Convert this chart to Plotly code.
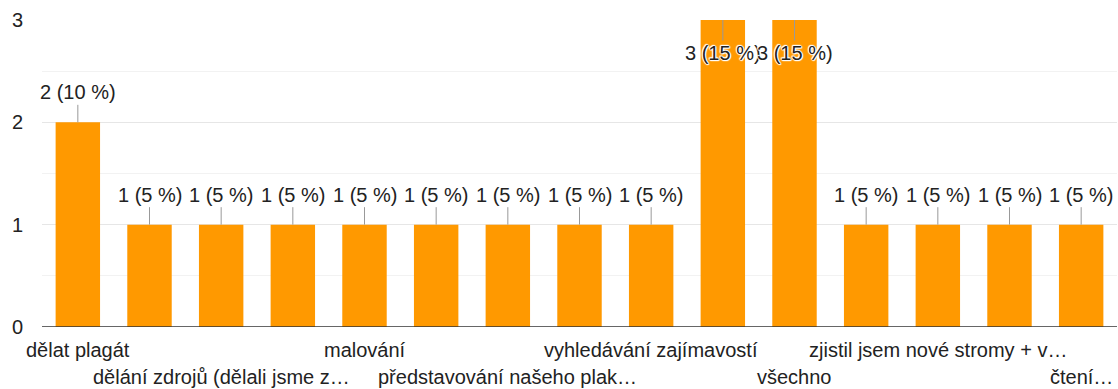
import plotly.graph_objects as go

# Response counts per answer (20 responses in total)
counts = [2, 1, 1, 1, 1, 1, 1, 1, 1, 3, 3, 1, 1, 1, 1]
total_responses = 20

# Axis labels shown under every other bar (positions are bar indices)
label_positions = [0, 2, 4, 6, 8, 10, 12, 14]
label_texts = [
    "dělat plagát",
    "dělání zdrojů (dělali jsme z…",
    "malování",
    "představování našeho plak…",
    "vyhledávání zajímavostí",
    "všechno",
    "zjistil jsem nové stromy + v…",
    "čtení…",
]

y_ticks = [0, 1, 2, 3]

BAR_COLOR = "#ff9900"
TEXT_COLOR = "#222222"
FONT = "Liberation Sans, Arial, sans-serif"
HALO = ("1px 0px 1px white, -1px 0px 1px white, 0px 1px 1px white, "
        "0px -1px 1px white, 1px 1px 1px white, -1px -1px 1px white")

x = list(range(len(counts)))
y_max = max(y_ticks)

fig = go.Figure(
    go.Bar(x=x, y=counts, marker=dict(color=BAR_COLOR, line=dict(width=0)),
           width=0.62, hoverinfo="skip")
)

annotations = []
# value labels with short leader lines
for i, c in enumerate(counts):
    pct = round(c / total_responses * 100)
    inside = c >= y_max
    annotations.append(dict(
        x=i, y=c, xref="x", yref="y",
        text=f"{c} ({pct} %)",
        showarrow=True, arrowhead=0, arrowwidth=1, arrowcolor="#999999",
        ax=0, ay=33 if inside else -30, standoff=0,
        font=dict(family=FONT, size=20, color=TEXT_COLOR, shadow=HALO),
    ))

# staggered category labels
for k, (pos, txt) in enumerate(zip(label_positions, label_texts)):
    annotations.append(dict(
        x=pos, y=0, xref="x", yref="paper",
        text=txt, showarrow=False, xanchor="center", yanchor="top",
        yshift=-10 if k % 2 == 0 else -37,
        font=dict(family=FONT, size=20, color=TEXT_COLOR),
    ))

fig.update_layout(
    width=1118, height=389,
    margin=dict(l=42, r=1, t=20, b=62),
    paper_bgcolor="white", plot_bgcolor="white",
    showlegend=False,
    annotations=annotations,
    xaxis=dict(range=[-0.5, len(counts) - 0.5], showticklabels=False,
               showgrid=False, zeroline=False, ticks="",
               showline=False, fixedrange=True),
    yaxis=dict(range=[0, y_max], tickvals=y_ticks,
               ticktext=[str(v) for v in y_ticks],
               tickfont=dict(family=FONT, size=20, color=TEXT_COLOR),
               showgrid=True, gridcolor="#e6e6e6", gridwidth=1,
               minor=dict(dtick=0.5, showgrid=True, gridcolor="#f2f2f2"),
               zeroline=False, ticks="", ticklabelstandoff=18,
               showline=False, fixedrange=True),
)

# baseline
fig.add_shape(type="line", xref="paper", yref="y", x0=0, x1=1, y0=0, y1=0,
              line=dict(color="#333333", width=1.5))

fig.write_html("out.html")
